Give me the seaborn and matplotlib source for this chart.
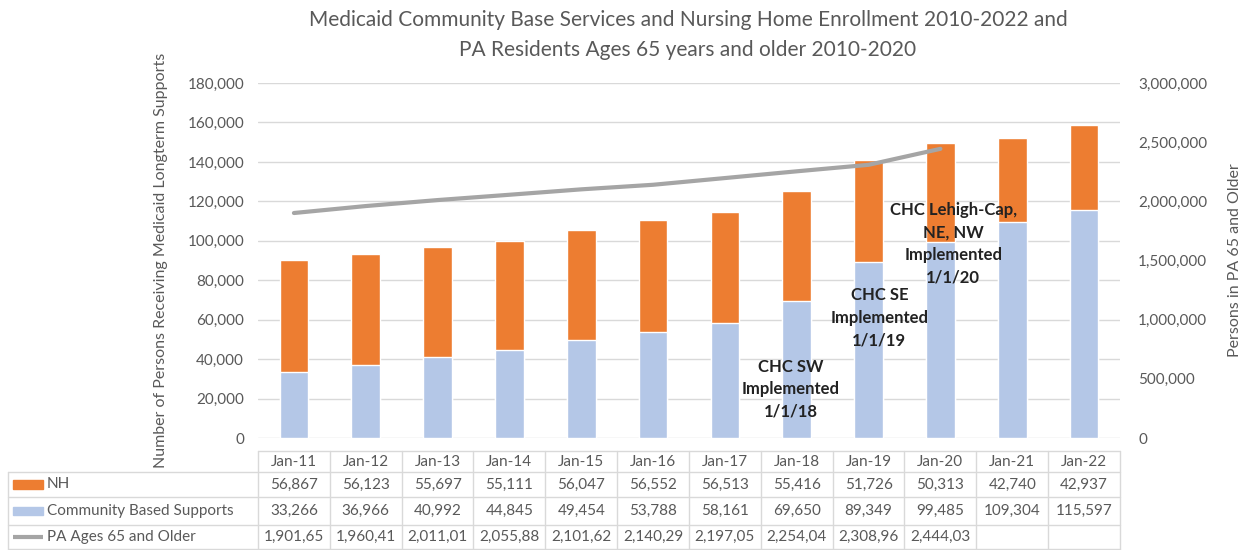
import matplotlib
matplotlib.use("Agg")
import matplotlib.pyplot as plt
import seaborn as sns
import numpy as np
from matplotlib.lines import Line2D
from matplotlib.patches import Rectangle
from matplotlib.transforms import blended_transform_factory
from matplotlib.ticker import FuncFormatter, MultipleLocator

months = ['Jan-11', 'Jan-12', 'Jan-13', 'Jan-14', 'Jan-15', 'Jan-16',
          'Jan-17', 'Jan-18', 'Jan-19', 'Jan-20', 'Jan-21', 'Jan-22']
nh = [56867, 56123, 55697, 55111, 56047, 56552, 56513, 55416, 51726, 50313, 42740, 42937]
cbs = [33266, 36966, 40992, 44845, 49454, 53788, 58161, 69650, 89349, 99485, 109304, 115597]
pa65 = [1901650, 1960410, 2011010, 2055880, 2101620, 2140290, 2197050, 2254040, 2308960, 2444030]
pa65_labels = ['1,901,65', '1,960,41', '2,011,01', '2,055,88', '2,101,62',
               '2,140,29', '2,197,05', '2,254,04', '2,308,96', '2,444,03', '', '']

ORANGE = '#ED7D31'
BLUE = '#B4C7E7'
GRAY = '#A5A5A5'
TXT = '#595959'
GRID = '#D9D9D9'

sns.set_style('white')
plt.rcParams['font.family'] = ['Lato', 'DejaVu Sans']

fig = plt.figure(figsize=(12.44, 5.5), dpi=100)
ax = fig.add_axes([0.2074, 0.2036, 0.6929, 0.6454])

totals = [a + b for a, b in zip(nh, cbs)]
sns.barplot(x=months, y=totals, color=ORANGE, width=0.4, saturation=1, ax=ax, zorder=2)
sns.barplot(x=months, y=cbs, color=BLUE, width=0.4, saturation=1, ax=ax, zorder=3)

ax.set_xlim(-0.5, 11.5)
ax.set_ylim(0, 180000)
ax.yaxis.set_major_locator(MultipleLocator(20000))
ax.yaxis.set_major_formatter(FuncFormatter(lambda v, p: f'{int(v):,}'))
ax.grid(axis='y', color=GRID, linewidth=1, zorder=0)
ax.set_axisbelow(True)
ax.set_xticks([])
ax.set_xlabel('')
ax.tick_params(axis='y', length=0, pad=10, labelsize=11, labelcolor=TXT)
for s in ax.spines.values():
    s.set_visible(False)
ax.set_ylabel('Number of Persons Receiving Medicaid Longterm Supports',
              fontsize=11.5, color=TXT, labelpad=14)

ax2 = ax.twinx()
sns.lineplot(x=np.arange(len(pa65)), y=pa65, color=GRAY, linewidth=3, ax=ax2, zorder=4)
ax2.set_ylim(0, 3000000)
ax2.yaxis.set_major_locator(MultipleLocator(500000))
ax2.yaxis.set_major_formatter(FuncFormatter(lambda v, p: f'{int(v):,}'))
ax2.tick_params(axis='y', length=0, pad=13, labelsize=11, labelcolor=TXT)
for s in ax2.spines.values():
    s.set_visible(False)
ax2.grid(False)
ax2.set_ylabel('Persons in PA 65 and Older', fontsize=11.5, color=TXT, labelpad=15)

# annotations
ann_kw = dict(ha='center', va='center', fontsize=12, fontweight='bold', color='#222222',
              linespacing=1.5, zorder=6)
ax.text(6.92, 24800, 'CHC SW\nImplemented\n1/1/18', **ann_kw)
ax.text(8.15, 61000, 'CHC SE\nImplemented\n1/1/19', **ann_kw)
ax.text(9.18, 98600, 'CHC Lehigh-Cap,\nNE, NW\nImplemented\n1/1/20', **ann_kw)

fig.suptitle('Medicaid Community Base Services and Nursing Home Enrollment 2010-2022 and\n'
             'PA Residents Ages 65 years and older 2010-2020',
             x=0.553, y=0.982, fontsize=15, color=TXT, linespacing=1.65)

# data table below the axis
tr = blended_transform_factory(ax.transData, fig.transFigure)
y_head_top, y_head_bot = 0.180, 0.1418
row_edges = [0.1418, 0.0964, 0.0455, 0.001]
x_left_fig = 0.0064
line_kw = dict(color=GRID, linewidth=1, clip_on=False)

ax.plot([-0.5, 11.5], [y_head_top, y_head_top], transform=tr, **line_kw)
for e in row_edges:
    fig.add_artist(Line2D([x_left_fig, 0.9003], [e, e], **line_kw))
for i in range(13):
    ax.plot([i - 0.5, i - 0.5], [y_head_top, row_edges[-1]], transform=tr, **line_kw)
fig.add_artist(Line2D([x_left_fig, x_left_fig], [row_edges[0], row_edges[-1]], **line_kw))

cell_kw = dict(ha='center', va='center', fontsize=11, color=TXT, transform=tr, clip_on=False)
for i, m in enumerate(months):
    ax.text(i, (y_head_top + y_head_bot) / 2, m, **cell_kw)
rows = [[f'{v:,}' for v in nh], [f'{v:,}' for v in cbs], pa65_labels]
for r, vals in enumerate(rows):
    yc = (row_edges[r] + row_edges[r + 1]) / 2
    for i, v in enumerate(vals):
        ax.text(i, yc, v, **cell_kw)

row_names = ['NH', 'Community Based Supports', 'PA Ages 65 and Older']
for r, name in enumerate(row_names):
    yc = (row_edges[r] + row_edges[r + 1]) / 2
    fig.text(0.0378, yc, name, ha='left', va='center', fontsize=11, color=TXT)
    if r < 2:
        fig.add_artist(Rectangle((0.0105, yc - 0.008), 0.0241, 0.016,
                                 color=[ORANGE, BLUE][r], transform=fig.transFigure))
    else:
        fig.add_artist(Line2D([0.0105, 0.0346], [yc, yc], color=GRAY, linewidth=3,
                              solid_capstyle='butt'))

fig.savefig('out.png', dpi=100)
